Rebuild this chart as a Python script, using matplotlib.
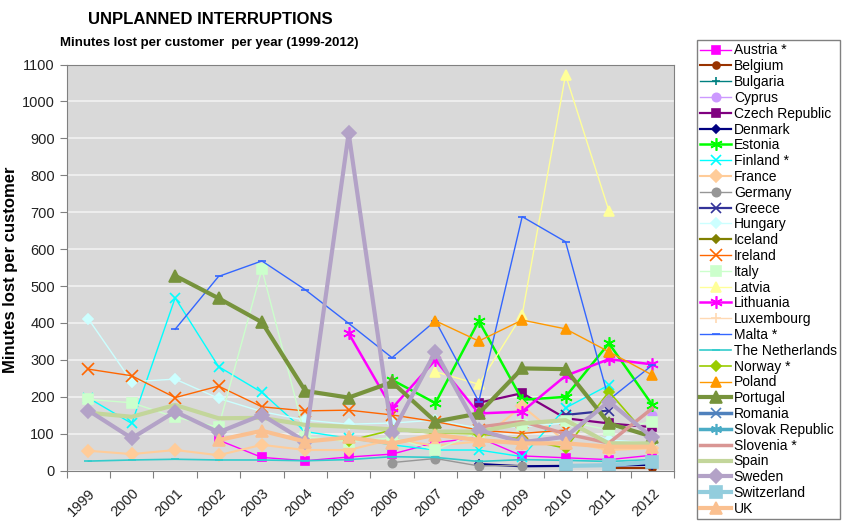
import numpy as np
import matplotlib
matplotlib.use("Agg")
import matplotlib.pyplot as plt

plt.rcParams['font.family'] = ['Liberation Sans', 'DejaVu Sans']

years = ['1999', '2000', '2001', '2002', '2003', '2004', '2005',
         '2006', '2007', '2008', '2009', '2010', '2011', '2012']
N = None

austria = [N, N, N, 83, 36, 27, 37, 45, 76, 90, 40, 35, 30, 42]
belgium = [N, N, N, N, N, N, N, N, N, N, N, N, 6, 6]
bulgaria = [N]*14
cyprus = [N, N, N, N, N, N, N, N, N, N, N, N, N, 151]
czech = [N, N, N, N, N, N, N, N, N, 184, 210, 142, 128, 118]
denmark = [N, N, N, N, N, N, N, N, N, 18, 12, 13, 14, 16]
estonia = [N, N, N, N, N, N, N, 246, 183, 406, 192, 200, 345, 178]
finland = [197, 128, 468, 282, 212, 106, 88, 70, 56, 56, 38, 170, 232, N]
france = [54, 45, 56, 42, 70, 56, 56, 85, 68, 79, 175, 79, 56, 61]
germany = [N, N, N, N, N, N, N, 22, 33, 13, 14, N, N, N]
greece = [N, N, N, N, N, N, N, N, N, N, N, 151, 163, N]
hungary = [411, 241, 248, 196, 160, 137, 126, 129, 137, 115, 119, 129, 83, 75]
iceland = [N]*14
ireland = [275, 257, 198, 229, 173, 162, 164, 151, 133, 110, 101, 110, N, N]
italy = [193, 184, 145, 118, 546, 92, 79, 89, 56, 105, 125, 135, 110, 133]
latvia = [N, N, N, N, N, N, N, N, 268, 234, 422, 1072, 704, N]
lithuania = [N, N, N, N, N, N, 372, 169, 300, 155, 160, 257, 302, 288]
luxembourg = [N]*14
malta = [N, N, 383, 526, 568, 490, 399, 306, 406, 187, 688, 620, 192, 286]
netherlands = [26, 29, 31, 29, 29, 27, 30, 38, 36, 25, 30, 28, 25, 30]
norway = [N, N, N, N, N, N, 81, 110, 102, 100, 86, 61, 214, 79]
poland = [N, N, N, N, N, N, N, N, 406, 351, 408, 384, 322, 259]
portugal = [N, N, 528, 467, 402, 216, 198, 240, 133, 155, 277, 275, 128, 92]
romania = [N]*14
slovakia = [N]*14
slovenia = [N, N, N, N, N, N, N, N, N, 118, 133, 100, 75, 169]
spain = [157, 146, 178, 142, 143, 124, 119, 112, 106, 106, 128, 137, 74, 74]
sweden = [163, 88, 160, 104, 151, 79, 914, 101, 322, 110, 77, 92, 187, 90]
switzerland = [N, N, N, N, N, N, N, N, N, N, N, 13, 15, 24]
uk = [N, N, N, 83, 108, 79, 90, 74, 97, 83, 74, 74, 65, 65]

# label, data, color, marker, markersize, linewidth
series = [
    ('Austria *', austria, '#ff00ff', 's', 6, 1.0),
    ('Belgium', belgium, '#993300', 'o', 5, 1.5),
    ('Bulgaria', bulgaria, '#008080', '+', 6, 1.0),
    ('Cyprus', cyprus, '#cc99ff', 'o', 6, 1.0),
    ('Czech Republic', czech, '#800080', 's', 6, 1.6),
    ('Denmark', denmark, '#000080', 'D', 4, 1.6),
    ('Estonia', estonia, '#00ff00', (6, 2, 0), 9, 1.8),
    ('Finland *', finland, '#00ffff', 'x', 7, 1.0),
    ('France', france, '#ffcc99', 'D', 6, 1.5),
    ('Germany', germany, '#969696', 'o', 6, 1.0),
    ('Greece', greece, '#333399', 'x', 7, 1.6),
    ('Hungary', hungary, '#ccffff', 'D', 5, 1.0),
    ('Iceland', iceland, '#808000', 'D', 4, 1.6),
    ('Ireland', ireland, '#ff6600', 'x', 8, 1.0),
    ('Italy', italy, '#ccffcc', 's', 7, 1.0),
    ('Latvia', latvia, '#ffff99', '^', 7, 1.0),
    ('Lithuania', lithuania, '#ff00ff', (6, 2, 0), 9, 1.8),
    ('Luxembourg', luxembourg, '#ffd9b3', '+', 7, 1.0),
    ('Malta *', malta, '#3366ff', '_', 6, 1.0),
    ('The Netherlands', netherlands, '#33cccc', '_', 6, 1.2),
    ('Norway *', norway, '#99cc00', 'D', 5, 1.2),
    ('Poland', poland, '#ff9900', '^', 7, 1.0),
    ('Portugal', portugal, '#77933c', '^', 9, 3.0),
    ('Romania', romania, '#4f81bd', 'x', 7, 2.5),
    ('Slovak Republic', slovakia, '#4bacc6', (6, 2, 0), 8, 2.5),
    ('Slovenia *', slovenia, '#d99694', 'None', 0, 2.5),
    ('Spain', spain, '#c3d69b', 'None', 0, 3.0),
    ('Sweden', sweden, '#b3a2c7', 'D', 7, 3.0),
    ('Switzerland', switzerland, '#93cddd', 's', 8, 3.0),
    ('UK', uk, '#fac090', '^', 8, 3.0),
]

fig = plt.figure(figsize=(8.46, 5.28), dpi=100)
ax = fig.add_axes([66.7/846, 1-470.7/528, (674-66.7)/846, (470.7-64.5)/528])
ax.set_facecolor('#d9d9d9')

x = np.arange(len(years))
for label, vals, col, mk, ms, lw in series:
    y = np.array([np.nan if v is None else v for v in vals], dtype=float)
    ax.plot(x, y, color=col, marker=mk, markersize=ms, linewidth=lw,
            markeredgecolor=col, markerfacecolor=col, markeredgewidth=1.2,
            label=label)

ax.set_xlim(-0.5, len(years) - 0.5)
ax.set_ylim(0, 1100)
ax.set_yticks(np.arange(0, 1101, 100))
ax.yaxis.grid(True, color='#f2f2f2', linewidth=1.2)
ax.set_axisbelow(True)

ax.set_xticks(np.arange(-0.5, len(years)), [''] * (len(years) + 1))
ax.set_xticks(x, minor=True)
ax.set_xticklabels(years, minor=True, rotation=45, ha='right',
                   rotation_mode='anchor', fontsize=10.5, color='#222222')
ax.tick_params(axis='x', which='minor', length=0, pad=11)
ax.tick_params(axis='x', which='major', length=5, color='#808080', direction='out')
ax.tick_params(axis='y', length=5, color='#808080', labelsize=10.5,
               labelcolor='#222222', direction='out')
for s in ax.spines.values():
    s.set_color('#808080')
ax.set_ylabel('Minutes lost per customer', fontsize=12, fontweight='bold')
ax.yaxis.set_label_coords(-0.08, 0.494)

fig.text(210/846, 1-20/528, 'UNPLANNED INTERRUPTIONS', ha='center', va='center',
         fontsize=12, fontweight='bold')
fig.text(209/846, 1-43/528, 'Minutes lost per customer  per year (1999-2012)', ha='center',
         va='center', fontsize=9.5, fontweight='bold')

leg = fig.legend(loc='upper left', bbox_to_anchor=(697/846, 1-40/528), fontsize=10,
                 handlelength=2.2, labelspacing=0.13, borderpad=0.25, handletextpad=0.2,
                 fancybox=False, edgecolor='#808080', framealpha=1, borderaxespad=0)
leg.get_frame().set_linewidth(1.0)

fig.savefig('out.png', dpi=100)
